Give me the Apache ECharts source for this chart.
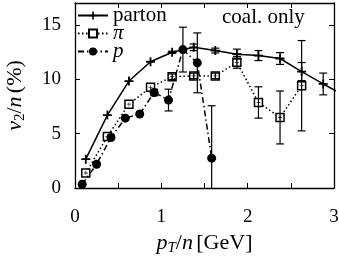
<!DOCTYPE html>
<html><head><meta charset="utf-8">
<script src="https://cdn.jsdelivr.net/npm/echarts@6/dist/echarts.min.js"></script>
<style>html,body{margin:0;padding:0;background:#fff}#c{width:339px;height:256px}</style>
</head><body><div id="c"></div>
<script>
// ---- data ----
const partonX   = [0.125, 0.375, 0.625, 0.875, 1.125, 1.375, 1.625, 1.875, 2.125, 2.375, 2.625, 2.875, 3.125];
const partonY   = [2.65, 6.7, 9.83, 11.6, 12.47, 12.93, 12.63, 12.3, 12.17, 11.9, 10.7, 9.56, 8.5];
const partonErr = [0, 0, 0, 0, 0.1, 0.3, 0.22, 0.46, 0.46, 0.54, 0.83, 1.0, 1.2];

const pionX   = [0.125, 0.375, 0.625, 0.875, 1.125, 1.375, 1.625, 1.875, 2.125, 2.375, 2.625];
const pionY   = [1.38, 4.73, 7.7, 9.25, 10.23, 10.3, 10.3, 11.55, 7.86, 6.48, 9.4];
const pionErr = [0, 0, 0, 0, 0.25, 0.25, 0.25, 0.54, 1.44, 2.43, 4.15];

const protonX   = [0.083, 0.25, 0.417, 0.583, 0.75, 0.917, 1.083, 1.25, 1.417, 1.583];
const protonY   = [0.34, 2.18, 4.64, 6.42, 6.8, 8.78, 8.08, 12.72, 11.5, 2.74];
const protonErr = [0, 0, 0, 0, 0, 0.3, 1.0, 2.06, 2.75, 4.82];

const xTicks = [0, 1, 2, 3];
const yTicks = [0, 5, 10, 15];
const seriesNames = ['parton', 'π', 'p'];
const annotation = 'coal. only';

// ---- chart ----
const FONT = 'Liberation Serif';
const zip = (xs, ys) => xs.map((x, i) => [x, ys[i]]);
const zip3 = (xs, ys, es) => xs.map((x, i) => [x, ys[i], es[i]]);

function errRender(params, api) {
  const x = api.value(0), y = api.value(1), e = api.value(2);
  if (!e) return null;
  const cs = params.coordSys;
  const top = api.coord([x, y + e]);
  const bot = api.coord([x, y - e]);
  const yt = cs.y, yb = cs.y + cs.height;
  if (top[0] < cs.x || top[0] > cs.x + cs.width) return null;
  const t = Math.max(top[1], yt), b = Math.min(bot[1], yb);
  const st = { stroke: '#000', lineWidth: 1.2 };
  const ch = [{ type: 'line', shape: { x1: top[0], y1: t, x2: top[0], y2: b }, style: st }];
  const w = 4;
  if (top[1] >= yt) ch.push({ type: 'line', shape: { x1: top[0] - w, y1: t, x2: top[0] + w, y2: t }, style: st });
  if (bot[1] <= yb) ch.push({ type: 'line', shape: { x1: top[0] - w, y1: b, x2: top[0] + w, y2: b }, style: st });
  return { type: 'group', children: ch };
}

const plusPath = 'path://M4,0H6V4H10V6H6V10H4V6H0V4H4Z';
const axisCommon = {
  axisLine: { show: true, onZero: false, lineStyle: { color: '#000', width: 1.3 } },
  axisTick: { show: true, inside: true, length: 5, lineStyle: { color: '#000', width: 1 } },
  splitLine: { show: false }
};
const nameRich = {
  i: { fontFamily: FONT, fontStyle: 'italic', fontSize: 22, color: '#000', lineHeight: 26 },
  r: { fontFamily: FONT, fontSize: 22, color: '#000', lineHeight: 26 },
  s: { fontFamily: FONT, fontSize: 15, color: '#000', lineHeight: 15, verticalAlign: 'bottom' },
  si: { fontFamily: FONT, fontStyle: 'italic', fontSize: 15, color: '#000', lineHeight: 15, verticalAlign: 'bottom' }
};

const chart = echarts.init(document.getElementById('c'), null, { renderer: 'canvas' });
chart.setOption({
  animation: false,
  backgroundColor: '#fff',
  grid: { left: 75, right: 5, top: 3, bottom: 68, containLabel: false, outerBoundsMode: 'none' },
  xAxis: [
    Object.assign({
      type: 'value', min: 0, max: 3, interval: 0.5, position: 'bottom',
      axisLabel: {
        margin: 20, color: '#000', fontFamily: FONT, fontSize: 19,
        formatter: v => (xTicks.indexOf(v) >= 0 ? String(v) : '')
      },
      name: '{i|p}{si|T}{r|/}{i|n} {r|[GeV]}', nameLocation: 'middle', nameGap: 27,
      nameTextStyle: { rich: nameRich }
    }, axisCommon),
    Object.assign({
      type: 'value', min: 0, max: 3, interval: 0.5, position: 'top',
      axisLabel: { show: false }
    }, axisCommon)
  ],
  yAxis: [
    Object.assign({
      type: 'value', min: 0, max: 17, interval: 5, position: 'left',
      axisLabel: {
        margin: 14, color: '#000', fontFamily: FONT, fontSize: 19, showMaxLabel: false,
        formatter: v => (yTicks.indexOf(v) >= 0 ? String(v) : '')
      },
      name: '{i|v}{s|2}{r|/}{i|n} {r|(%)}', nameLocation: 'middle', nameGap: 47,
      nameTextStyle: { rich: nameRich }
    }, axisCommon),
    Object.assign({
      type: 'value', min: 0, max: 17, interval: 5, position: 'right',
      axisLabel: { show: false }
    }, axisCommon)
  ],
  legend: {
    data: [
      { name: seriesNames[0] },
      { name: seriesNames[1], textStyle: { fontStyle: 'italic' } },
      { name: seriesNames[2], textStyle: { fontStyle: 'italic' } }
    ],
    orient: 'vertical', left: 77, top: 5, padding: 0,
    itemWidth: 30, itemHeight: 10, itemGap: -3,
    textStyle: { color: '#000', fontFamily: FONT, fontSize: 21, lineHeight: 18 }
  },
  graphic: [{
    type: 'text', left: 222, top: 7,
    style: { text: annotation, font: '21px "Liberation Serif"', fill: '#000' }
  }],
  series: [
    {
      name: seriesNames[0], type: 'line', data: zip(partonX, partonY),
      symbol: plusPath, symbolSize: 9, clip: true,
      lineStyle: { color: '#000', width: 1.5, type: 'solid' },
      itemStyle: { color: '#000' }, z: 3
    },
    {
      name: seriesNames[1], type: 'line', data: zip(pionX, pionY),
      symbol: 'rect', symbolSize: 8, clip: true,
      lineStyle: { color: '#000', width: 1.5, type: [1.5, 2.5] },
      itemStyle: { color: '#fff', borderColor: '#000', borderWidth: 1.5 }, z: 4
    },
    {
      name: seriesNames[2], type: 'line', data: zip(protonX, protonY),
      symbol: 'circle', symbolSize: 9, clip: true,
      lineStyle: { color: '#000', width: 1.5, type: [6, 3, 1.5, 3] },
      itemStyle: { color: '#000' }, z: 5
    },
    {
      type: 'scatter', data: zip(pionX, pionY), symbol: plusPath, symbolSize: 4,
      itemStyle: { color: '#000' }, z: 6, silent: true, clip: true
    },
    { type: 'custom', renderItem: errRender, data: zip3(partonX, partonY, partonErr), encode: { x: 0, y: 1 }, z: 6, clip: true },
    { type: 'custom', renderItem: errRender, data: zip3(pionX, pionY, pionErr), encode: { x: 0, y: 1 }, z: 6, clip: true },
    { type: 'custom', renderItem: errRender, data: zip3(protonX, protonY, protonErr), encode: { x: 0, y: 1 }, z: 6, clip: true }
  ]
});
</script></body></html>
